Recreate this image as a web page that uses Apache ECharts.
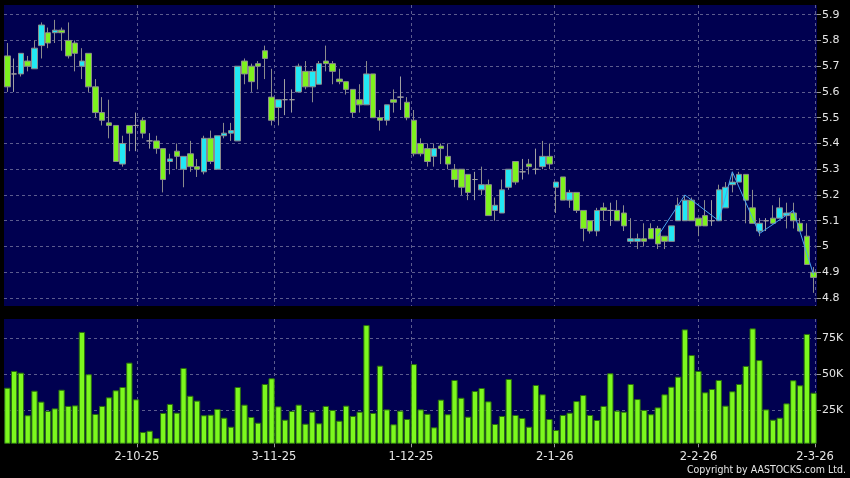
<!DOCTYPE html>
<html><head><meta charset="utf-8">
<script src="https://cdn.jsdelivr.net/npm/echarts@6/dist/echarts.min.js"></script>
<style>html,body{margin:0;padding:0;background:#000;}#c{width:850px;height:478px;}</style>
</head><body><div id="c"></div>
<script>
// Trading days (D-M-YY)
const dates = [
 '3-9-25','4-9-25','5-9-25','8-9-25','9-9-25','10-9-25','11-9-25','12-9-25','15-9-25','16-9-25',
 '17-9-25','18-9-25','19-9-25','22-9-25','23-9-25','24-9-25','25-9-25','26-9-25','29-9-25','30-9-25',
 '2-10-25','3-10-25','6-10-25','8-10-25','9-10-25','10-10-25','13-10-25','14-10-25','15-10-25','16-10-25',
 '17-10-25','20-10-25','21-10-25','22-10-25','23-10-25','24-10-25','27-10-25','28-10-25','30-10-25','31-10-25',
 '3-11-25','4-11-25','5-11-25','6-11-25','7-11-25','10-11-25','11-11-25','12-11-25','13-11-25','14-11-25',
 '17-11-25','18-11-25','19-11-25','20-11-25','21-11-25','24-11-25','25-11-25','26-11-25','27-11-25','28-11-25',
 '1-12-25','2-12-25','3-12-25','4-12-25','5-12-25','8-12-25','9-12-25','10-12-25','11-12-25','12-12-25',
 '15-12-25','16-12-25','17-12-25','18-12-25','19-12-25','22-12-25','23-12-25','24-12-25','29-12-25','30-12-25',
 '31-12-25','2-1-26','5-1-26','6-1-26','7-1-26','8-1-26','9-1-26','12-1-26','13-1-26','14-1-26',
 '15-1-26','16-1-26','19-1-26','20-1-26','21-1-26','22-1-26','23-1-26','26-1-26','27-1-26','28-1-26',
 '29-1-26','30-1-26','2-2-26','3-2-26','4-2-26','5-2-26','6-2-26','9-2-26','10-2-26','11-2-26',
 '12-2-26','13-2-26','16-2-26','20-2-26','23-2-26','24-2-26','25-2-26','26-2-26','27-2-26','2-3-26'
];
const openP = [
 5.74,5.67,5.67,5.72,5.69,5.78,5.83,5.83,5.84,5.80, 5.79,5.70,5.75,5.62,5.52,5.48,5.47,5.32,5.47,5.47,
 5.49,5.41,5.41,5.38,5.33,5.37,5.30,5.36,5.31,5.29, 5.42,5.30,5.43,5.44,5.41,5.72,5.70,5.71,5.76,5.58,
 5.54,5.57,5.57,5.60,5.68,5.62,5.63,5.72,5.71,5.65, 5.64,5.61,5.57,5.55,5.67,5.50,5.49,5.57,5.58,5.56,
 5.49,5.40,5.38,5.35,5.39,5.35,5.30,5.30,5.28,5.26, 5.22,5.24,5.14,5.13,5.23,5.33,5.29,5.32,5.30,5.31,
 5.35,5.23,5.27,5.18,5.21,5.14,5.10,5.06,5.15,5.14, 5.14,5.13,5.02,5.02,5.03,5.07,5.07,5.04,5.02,5.10,
 5.10,5.18,5.11,5.12,5.10,5.10,5.15,5.24,5.25,5.28, 5.15,5.06,5.10,5.11,5.11,5.12,5.13,5.09,5.04,4.90
];
const closeP = [
 5.62,5.67,5.75,5.70,5.77,5.86,5.79,5.84,5.83,5.74, 5.75,5.72,5.62,5.52,5.49,5.47,5.33,5.40,5.44,5.47,
 5.44,5.41,5.38,5.26,5.34,5.35,5.35,5.31,5.30,5.42, 5.33,5.43,5.44,5.45,5.70,5.67,5.64,5.70,5.73,5.49,
 5.57,5.57,5.57,5.70,5.62,5.68,5.71,5.71,5.68,5.64, 5.61,5.52,5.55,5.67,5.50,5.49,5.55,5.56,5.58,5.50,
 5.36,5.36,5.33,5.38,5.38,5.32,5.26,5.23,5.21,5.26, 5.24,5.12,5.16,5.22,5.30,5.25,5.29,5.31,5.30,5.35,
 5.32,5.25,5.18,5.21,5.14,5.07,5.06,5.14,5.14,5.14, 5.10,5.08,5.03,5.03,5.02,5.03,5.01,5.02,5.08,5.16,
 5.18,5.10,5.08,5.08,5.10,5.22,5.23,5.25,5.28,5.18, 5.09,5.09,5.10,5.09,5.15,5.13,5.10,5.06,4.93,4.88
];
const lowP = [
 5.60,5.60,5.66,5.68,5.69,5.73,5.77,5.79,5.76,5.73, 5.68,5.65,5.60,5.50,5.47,5.42,5.33,5.31,5.37,5.37,
 5.42,5.38,5.36,5.21,5.28,5.30,5.23,5.29,5.27,5.28, 5.32,5.30,5.42,5.41,5.41,5.63,5.60,5.61,5.65,5.47,
 5.47,5.51,5.52,5.60,5.61,5.56,5.63,5.68,5.63,5.63, 5.59,5.50,5.52,5.55,5.50,5.45,5.47,5.52,5.53,5.49,
 5.35,5.35,5.31,5.31,5.32,5.30,5.23,5.20,5.18,5.18, 5.20,5.12,5.10,5.13,5.22,5.24,5.26,5.28,5.28,5.30,
 5.30,5.13,5.18,5.15,5.13,5.02,5.05,5.04,5.10,5.08, 5.10,5.06,5.01,4.99,5.00,5.03,4.99,4.99,5.02,5.10,
 5.10,5.10,5.04,5.08,5.08,5.10,5.15,5.21,5.25,5.09, 5.09,5.04,5.06,5.09,5.11,5.07,5.07,5.06,4.93,4.82
];
const highP = [
 5.79,5.73,5.75,5.74,5.80,5.87,5.85,5.88,5.85,5.87, 5.80,5.77,5.75,5.65,5.58,5.57,5.47,5.43,5.47,5.52,
 5.50,5.44,5.43,5.38,5.36,5.40,5.35,5.41,5.34,5.43, 5.45,5.43,5.48,5.48,5.70,5.73,5.71,5.72,5.78,5.69,
 5.57,5.65,5.61,5.71,5.72,5.69,5.72,5.78,5.72,5.69, 5.64,5.61,5.63,5.72,5.67,5.53,5.55,5.61,5.66,5.58,
 5.53,5.42,5.40,5.40,5.40,5.40,5.32,5.30,5.28,5.29, 5.31,5.26,5.19,5.26,5.30,5.33,5.34,5.34,5.38,5.41,
 5.40,5.25,5.27,5.22,5.21,5.14,5.10,5.15,5.17,5.17, 5.18,5.16,5.11,5.05,5.09,5.09,5.08,5.04,5.08,5.19,
 5.20,5.19,5.11,5.18,5.18,5.24,5.25,5.29,5.29,5.28, 5.22,5.11,5.11,5.16,5.19,5.17,5.17,5.11,5.09,4.92
];
const volume = [
 40500,52200,51000,21300,38400,30800,24300,26100,39100,27800, 28200,79400,49900,22200,27800,33800,38700,41000,58000,32400,
 9600,10500,5400,22900,29200,23100,54300,34900,31500,21300, 21700,25700,19600,13300,41000,28700,20100,16100,43100,47100,
 27500,18200,24300,28700,15400,23800,15700,27800,25000,17500, 28000,20800,23800,84200,22900,55900,25400,15000,24500,18700,
 57000,25400,22300,12900,32200,22000,45900,33500,20300,38200, 40300,31000,15200,20800,46600,21500,19400,13300,42400,35900,
 18700,11000,21500,23100,31200,35400,21500,18000,27800,50600, 24500,23800,43100,32600,25000,22000,26800,35900,41200,48200,
 81200,63300,52200,37300,39600,45900,28000,38000,43100,55700, 81900,59800,25400,18200,19600,29600,45700,42200,78000,37000
];
// thin overlay line (vertices)
const overlayLine = [
 ['23-1-26',5.04],['29-1-26',5.20],['5-2-26',5.10],['9-2-26',5.29],['13-2-26',5.05],['25-2-26',5.14],['2-3-26',4.89]
];
const priceMin = 4.8, priceMax = 5.9, priceStep = 0.1;
const volMinTick = 25000, volMaxTick = 75000, volStep = 25000;

const candles = dates.map((d,i)=>[openP[i],closeP[i],lowP[i],highP[i]]);
const isMonthStart = (idx) => {
  if (idx === 0) return false;
  const m = s => s.split('-')[1];
  return m(dates[idx]) !== m(dates[idx-1]);
};

const NAVY = '#000050';
const GRIDC = '#5c5c8e';
const TXT = '#e6e6e6';
const FONT = 'DejaVu Sans';
const dash = {color: GRIDC, type: [3,3], width: 1};
const hiddenCat = (g) => ({gridIndex:g, type:'category', data:dates, show:false});
const hiddenVal = (g) => ({gridIndex:g, type:'value', show:false, splitLine:{show:false}});

const chart = echarts.init(document.getElementById('c'), null, {renderer:'canvas'});
chart.setOption({
  animation: false,
  backgroundColor: '#000',
  grid: [
    {left:4, top:5, width:813, height:301, show:true, backgroundColor:NAVY, borderWidth:0},      // 0 price panel bg
    {left:4, top:14.7, width:813, height:283.3, show:false},                                    // 1 candles
    {left:0, top:5, width:815, height:301, show:false},                                         // 2 price vertical lines
    {left:4, top:319, width:813, height:124.3, show:true, backgroundColor:NAVY, borderWidth:0}, // 3 volume bars
    {left:4, top:338.3, width:813, height:71.7, show:false},                                    // 4 volume h-lines
    {left:0, top:319, width:815, height:124.3, show:false}                                      // 5 volume vertical lines + labels
  ],
  xAxis: [
    hiddenCat(0),
    {gridIndex:1, type:'category', data:dates, boundaryGap:true, axisLine:{show:false}, axisTick:{show:false}, axisLabel:{show:false}, splitLine:{show:false}},
    {gridIndex:2, type:'category', data:dates, boundaryGap:false, axisLine:{show:false}, axisTick:{show:false}, axisLabel:{show:false},
      splitLine:{show:true, interval:(i)=>isMonthStart(i), lineStyle:dash}},
    {gridIndex:3, type:'category', data:dates, boundaryGap:true, axisLine:{show:false}, axisTick:{show:false}, axisLabel:{show:false}, splitLine:{show:false}},
    hiddenCat(4),
    {gridIndex:5, type:'category', data:dates, boundaryGap:false, axisLine:{show:false},
      axisTick:{show:true, interval:(i)=>isMonthStart(i), length:4, lineStyle:{color:'#9a9a9a'}},
      axisLabel:{show:true, interval:(i)=>isMonthStart(i), color:TXT, fontFamily:FONT, fontSize:11.5, margin:8},
      splitLine:{show:true, interval:(i)=>isMonthStart(i), lineStyle:dash}}
  ],
  yAxis: [
    hiddenVal(0),
    {gridIndex:1, type:'value', position:'right', min:priceMin, max:priceMax, interval:priceStep,
      axisLine:{show:false}, axisTick:{show:true, length:4, lineStyle:{color:'#9a9a9a'}},
      axisLabel:{color:TXT, fontFamily:FONT, fontSize:11, margin:5},
      splitLine:{show:true, lineStyle:dash}},
    hiddenVal(2),
    {gridIndex:3, type:'value', show:false, min:1743, max:88430, splitLine:{show:false}},
    {gridIndex:4, type:'value', position:'right', min:volMinTick, max:volMaxTick, interval:volStep,
      axisLine:{show:false}, axisTick:{show:true, length:4, lineStyle:{color:'#9a9a9a'}},
      axisLabel:{color:TXT, fontFamily:FONT, fontSize:11, margin:5, formatter:(v)=>(v/1000)+'K'},
      splitLine:{show:true, lineStyle:dash}},
    hiddenVal(5)
  ],
  series: [
    {type:'candlestick', xAxisIndex:1, yAxisIndex:1, data:candles, barWidth:6,
      itemStyle:{color:'#22e8f4', color0:'#7ef21e', borderColor:'#8c8c8c', borderColor0:'#8c8c8c', borderColorDoji:'#a0a0a0', borderWidth:1}},
    {type:'line', xAxisIndex:1, yAxisIndex:1, data:overlayLine, symbol:'none', z:3,
      lineStyle:{color:'#4aa6ee', width:1}},
    {type:'bar', xAxisIndex:3, yAxisIndex:3, data:volume, barWidth:6.3,
      itemStyle:{color:'#7cf81e', borderColor:'#2a6e0e', borderWidth:1}}
  ],
  graphic: [
    {type:'text', right:4, bottom:2, style:{text:'Copyright by AASTOCKS.com Ltd.', fill:TXT, font:'10.5px "DejaVu Sans Condensed", "DejaVu Sans"'}}
  ]
});
</script></body></html>
